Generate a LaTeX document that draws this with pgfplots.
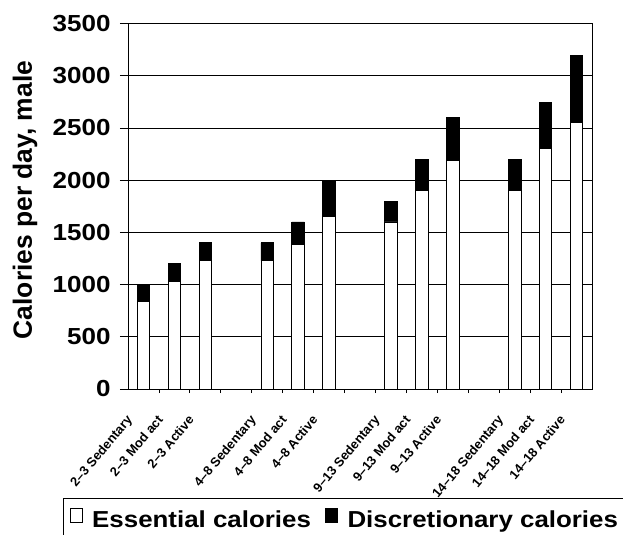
\documentclass[border=0pt]{standalone}
\usepackage{fontspec}
\setmainfont{Liberation Sans}
\newfontfamily\widesans[FakeStretch=1.12]{Liberation Sans}
\usepackage{pgfplots}
\pgfplotsset{compat=1.18}
\usepackage{pgfplotstable}

% x = slot index (gaps between age groups), essential + discretionary calories
\pgfplotstableread{
x  ess  disc
0  840  160
1  1030 170
2  1230 170
4  1230 170
5  1380 220
6  1650 350
8  1600 200
9  1900 300
10 2190 410
12 1900 300
13 2300 440
14 2550 640
}\calories

\pgfplotsset{
  sqlegend/.style={legend image code/.code={
      \draw[##1, draw=black, line width=0.6bp] (0bp,-3bp) rectangle (12bp,11bp);}},
}

\begin{document}
\begin{tikzpicture}
\path[use as bounding box] (0,0) rectangle (623bp,535bp);
\begin{axis}[
  at={(128bp,146bp)}, anchor=south west,
  width=464bp, height=365.5bp, scale only axis,
  xmin=-0.5, xmax=14.5, ymin=0, ymax=3500,
  ybar stacked, bar width=12.5bp,
  axis line style={black, line width=0.8bp},
  ytick={0,500,...,3500},
  ymajorgrids, grid style={black, line width=0.8bp},
  tick align=outside, xtick pos=bottom, ytick pos=left,
  major tick length=8bp, minor tick length=4bp,
  tick style={black, line width=0.8bp},
  major x tick style={draw=none},
  minor xtick={0.5,1.5,...,13.5},
  xtick={0,1,2,4,5,6,8,9,10,12,13,14},
  xticklabels={2–3 Sedentary, 2–3 Mod act, 2–3 Active,
               4–8 Sedentary, 4–8 Mod act, 4–8 Active,
               9–13 Sedentary, 9–13 Mod act, 9–13 Active,
               14–18 Sedentary, 14–18 Mod act, 14–18 Active},
  every x tick label/.append style={xshift=-18bp, yshift=-17bp,
    rotate=50, anchor=north east, inner sep=0pt,
    font=\bfseries\fontsize{13}{15}\selectfont},
  /pgf/number format/assume math mode=true,
  /pgf/number format/1000 sep={},
  scaled y ticks=false,
  every y tick label/.append style={xshift=-6bp,
    font=\widesans\bfseries\fontsize{23.3}{28}\selectfont},
  ylabel={Calories per day, male},
  ylabel style={at={(axis description cs:-0.222,0.517)}, anchor=center,
    font=\bfseries\fontsize{26.5}{30}\selectfont},
  legend columns=-1,
  legend style={at={(axis description cs:-0.1394,-0.298)}, anchor=north west,
    draw=black, line width=0.6bp, inner xsep=6bp, inner ysep=10bp,
    font=\widesans\bfseries\fontsize{23.2}{26}\selectfont,
    /tikz/every odd column/.append style={column sep=8bp},
    /tikz/every even column/.append style={column sep=12bp}},
]
\addplot[fill=white, draw=black, line width=0.8bp, sqlegend]
  table[x=x, y=ess] {\calories};
\addlegendentry{Essential calories}
\addplot[fill=black, draw=black, line width=0.8bp, sqlegend]
  table[x=x, y=disc] {\calories};
\addlegendentry{Discretionary calories\hspace*{40bp}}
\end{axis}
\end{tikzpicture}
\end{document}
